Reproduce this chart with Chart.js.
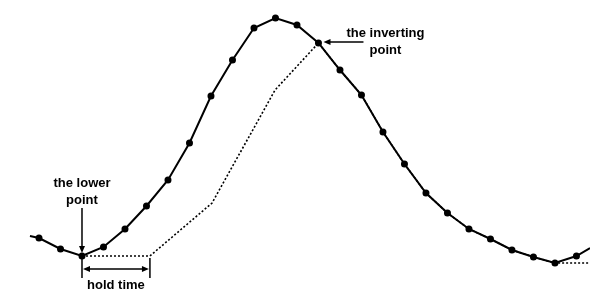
<!DOCTYPE html>
<html lang="en">
<head>
  <meta charset="UTF-8" />
  <title>Hold time</title>
  <script src="https://cdn.jsdelivr.net/npm/chart.js"></script>
  <style>
    html, body { margin: 0; padding: 0; background: #fff; }
    #wrap { width: 590px; height: 291px; position: relative; }
  </style>
</head>
<body>
  <div id="wrap"><canvas id="holdChart"></canvas></div>

  <script>
    // sampled signal (solid line with dots)
    const steps  = [0, 1, 2, 3, 4, 5, 6, 7, 8, 9, 10, 11, 12, 13, 14, 15, 16, 17, 18, 19, 20, 21, 22, 23, 24, 25];
    const signal = [53, 42, 35, 44, 62, 85, 111, 148, 195, 231, 263, 273, 266, 248, 221, 196, 159, 127, 98, 78, 62, 52, 41, 34, 28, 35];
    // line runs on past the first and last sample
    const edgeX = [-0.42, 25.63];
    const edgeY = [55, 43];

    // held / tracking output (dotted line)
    const trackX = [2, 5.16, 8.05, 10.98, 13, 14, 15, 16, 17, 18, 19, 20, 21, 22, 23, 24, 25.63];
    const trackY = [35, 35, 88, 201, 248, 221, 196, 159, 127, 98, 78, 62, 52, 41, 34, 28, 28];

    const lowerIdx = 2;      // the lower point
    const invertIdx = 13;    // the inverting point
    const holdEnd = 5.16;    // end of hold time

    const solidData = [{ x: edgeX[0], y: edgeY[0] }]
      .concat(steps.map((s, i) => ({ x: s, y: signal[i] })))
      .concat([{ x: edgeX[1], y: edgeY[1] }]);
    const trackData = trackX.map((x, i) => ({ x: x, y: trackY[i] }));

    const FONT = 'bold 13px "Liberation Sans", Arial, sans-serif';

    function arrowHead(ctx, x, y, dx, dy) {
      // dx,dy = unit direction the arrow points to
      const len = 7, half = 3;
      ctx.beginPath();
      ctx.moveTo(x, y);
      ctx.lineTo(x - dx * len - dy * half, y - dy * len + dx * half);
      ctx.lineTo(x - dx * len + dy * half, y - dy * len - dx * half);
      ctx.closePath();
      ctx.fill();
    }

    const notes = {
      id: 'notes',
      afterDatasetsDraw(chart) {
        const ctx = chart.ctx;
        const xs = chart.scales.x, ys = chart.scales.y;
        ctx.save();
        ctx.fillStyle = '#000';
        ctx.strokeStyle = '#000';
        ctx.lineWidth = 1.5;
        ctx.font = FONT;
        ctx.textAlign = 'center';
        ctx.textBaseline = 'middle';

        // the lower point
        const lx = xs.getPixelForValue(steps[lowerIdx]);
        const ly = ys.getPixelForValue(signal[lowerIdx]);
        ctx.fillText('the lower', lx, ly - 73);
        ctx.fillText('point', lx, ly - 56);
        ctx.beginPath();
        ctx.moveTo(lx, ly - 48);
        ctx.lineTo(lx, ly - 8);
        ctx.stroke();
        arrowHead(ctx, lx, ly - 3, 0, 1);

        // the inverting point
        const ix = xs.getPixelForValue(steps[invertIdx]);
        const iy = ys.getPixelForValue(signal[invertIdx]);
        ctx.fillText('the inverting', ix + 67, iy - 10);
        ctx.fillText('point', ix + 67, iy + 7);
        ctx.beginPath();
        ctx.moveTo(ix + 45, iy - 1);
        ctx.lineTo(ix + 10, iy - 1);
        ctx.stroke();
        arrowHead(ctx, ix + 5, iy - 1, -1, 0);

        // hold time
        const hx = xs.getPixelForValue(holdEnd);
        const top = ly + 2, bot = ly + 22, mid = ly + 13;
        ctx.beginPath();
        ctx.moveTo(lx, top); ctx.lineTo(lx, bot);
        ctx.moveTo(hx, top); ctx.lineTo(hx, bot);
        ctx.moveTo(lx + 6, mid); ctx.lineTo(hx - 6, mid);
        ctx.stroke();
        arrowHead(ctx, lx + 1, mid, -1, 0);
        arrowHead(ctx, hx - 1, mid, 1, 0);
        ctx.fillText('hold time', (lx + hx) / 2, ly + 29);

        ctx.restore();
      }
    };

    new Chart(document.getElementById('holdChart'), {
      type: 'scatter',
      data: {
        datasets: [
          {
            data: trackData,
            showLine: true,
            borderColor: '#000',
            borderWidth: 1.6,
            borderDash: [2, 2],
            pointRadius: 0
          },
          {
            data: solidData,
            showLine: true,
            borderColor: '#000',
            backgroundColor: '#000',
            borderWidth: 2,
            pointRadius: ctx => (ctx.dataIndex === 0 || ctx.dataIndex === solidData.length - 1) ? 0 : 2.5,
            pointStyle: 'circle'
          }
        ]
      },
      options: {
        responsive: true,
        maintainAspectRatio: false,
        animation: false,
        layout: { padding: 0 },
        plugins: { legend: { display: false }, tooltip: { enabled: false } },
        scales: {
          x: { type: 'linear', display: false, min: -1.814, max: 25.63 },
          y: { type: 'linear', display: false, min: 0, max: 291 }
        }
      },
      plugins: [notes]
    });
  </script>
</body>
</html>
